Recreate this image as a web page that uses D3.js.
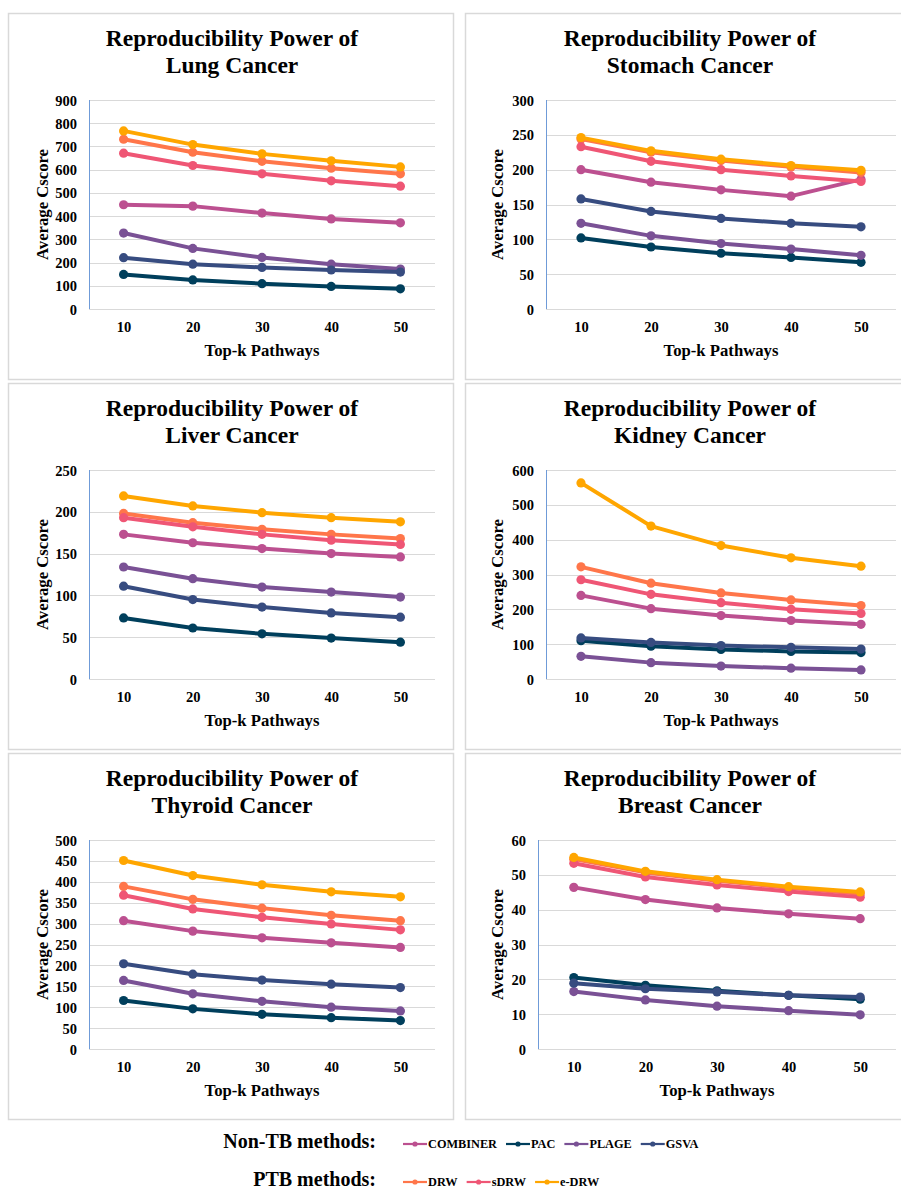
<!DOCTYPE html>
<html>
<head>
<meta charset="utf-8">
<script src="https://cdn.jsdelivr.net/npm/d3@7"></script>
<style>
  body { margin: 0; background: #fff; }
  text { font-family: "Liberation Serif", "Times New Roman", serif; font-weight: bold; fill: #000; }
</style>
</head>
<body>
<div id="main"></div>
<script>
var topK = [10, 20, 30, 40, 50];
var methods = ["COMBINER", "PAC", "PLAGE", "GSVA", "DRW", "sDRW", "e-DRW"];
var nonTB = ["COMBINER", "PAC", "PLAGE", "GSVA"];
var ptb = ["DRW", "sDRW", "e-DRW"];
var colors = ["#bc5090", "#003f5c", "#7a5195", "#374c80", "#ff764a", "#ef5675", "#ffa600"];

// values per cancer, same order as methods
var lung = [
  [449, 443, 413, 388, 371],
  [149, 125, 109, 97, 87],
  [327, 261, 222, 193, 172],
  [221, 193, 179, 168, 159],
  [731, 675, 636, 606, 582],
  [671, 618, 582, 552, 529],
  [767, 708, 668, 638, 612]
];
var stomach = [
  [200, 182, 171, 162, 186],
  [102, 89, 80, 74, 67],
  [123, 105, 94, 86, 77],
  [158, 140, 130, 123, 118],
  [244, 225, 213, 204, 196],
  [233, 212, 200, 191, 183],
  [246, 227, 215, 206, 199]
];
var liver = [
  [173, 163, 156, 150, 146],
  [73, 61, 54, 49, 44],
  [134, 120, 110, 104, 98],
  [111, 95, 86, 79, 74],
  [198, 187, 179, 173, 168],
  [193, 182, 173, 166, 161],
  [219, 207, 199, 193, 188]
];
var kidney = [
  [240, 202, 182, 168, 157],
  [110, 94, 85, 79, 76],
  [65, 47, 37, 31, 26],
  [118, 105, 96, 91, 86],
  [322, 275, 247, 227, 211],
  [285, 243, 219, 200, 188],
  [563, 439, 383, 348, 324]
];
var thyroid = [
  [307, 282, 266, 254, 243],
  [116, 96, 83, 75, 68],
  [164, 132, 114, 100, 91],
  [204, 179, 165, 155, 147],
  [389, 358, 337, 320, 307],
  [368, 335, 315, 299, 285],
  [451, 415, 393, 376, 364]
];
var breast = [
  [46.4, 42.9, 40.5, 38.8, 37.4],
  [20.5, 18.3, 16.7, 15.4, 14.3],
  [16.5, 14.1, 12.3, 11.0, 9.8],
  [18.9, 17.3, 16.4, 15.4, 14.9],
  [54.5, 50.7, 48.3, 46.3, 44.6],
  [53.3, 49.4, 47.1, 45.2, 43.6],
  [55.0, 51.0, 48.6, 46.6, 45.1]
];
var cancers = ["Lung", "Stomach", "Liver", "Kidney", "Thyroid", "Breast"];
var cancerValues = [lung, stomach, liver, kidney, thyroid, breast];
var yMax = [900, 300, 250, 600, 500, 60];
var yStep = [100, 50, 50, 100, 50, 10];

var svg = d3.select("#main").append("svg")
  .attr("width", 901)
  .attr("height", 1190);

cancers.forEach(function(name, i) {
  var col = i % 2, row = Math.floor(i / 2);
  var panelX = col == 0 ? 8 : 465;
  var panelTop = 13 + row * 370;
  var left = col == 0 ? 89 : (yMax[i] < 100 ? 538 : 546);
  var right = col == 0 ? 435 : 896;
  var top = 100 + row * 370, bottom = 309 + row * 370;
  var titleX = col == 0 ? 232 : 690;

  var g = svg.append("g");
  g.append("rect")
    .attr("x", panelX + 0.5).attr("y", panelTop + 0.5)
    .attr("width", col == 0 ? 445 : 460).attr("height", 366)
    .attr("fill", "#fff").attr("stroke", "#d9d9d9").attr("stroke-width", 1.5);//panel border

  var title = g.append("text")
    .attr("x", titleX).attr("y", panelTop + 33)
    .style("font-size", "23.5px").style("text-anchor", "middle");
  title.append("tspan").attr("x", titleX).text("Reproducibility Power of");
  title.append("tspan").attr("x", titleX).attr("dy", 27).text(name + " Cancer");

  var x = d3.scalePoint().domain(topK).range([left, right]).padding(0.5);
  var y = d3.scaleLinear().domain([0, yMax[i]]).range([bottom, top]);
  var ticks = d3.range(0, yMax[i] + yStep[i] / 2, yStep[i]);

  g.append("g").selectAll("line").data(ticks).enter().append("line")
    .attr("x1", left).attr("x2", right)
    .attr("y1", function(d) { return Math.round(y(d)) + 0.5; })
    .attr("y2", function(d) { return Math.round(y(d)) + 0.5; })
    .attr("stroke", "#d9d9d9").attr("stroke-width", 1);//gridlines
  g.append("line")
    .attr("x1", left + 0.5).attr("x2", left + 0.5)
    .attr("y1", top).attr("y2", bottom)
    .attr("stroke", "#6f9bd8").attr("stroke-width", 1);//y axis line

  var yAxis = d3.axisLeft(y).tickValues(ticks).tickSize(0).tickPadding(12);
  g.append("g").attr("transform", "translate(" + left + ",0)").call(yAxis)
    .call(function(s) { s.select(".domain").remove(); })
    .selectAll("text").style("font-size", "14.5px").attr("dy", "0.35em")
    .style("font-family", "'Liberation Serif', serif").style("font-weight", "bold").attr("fill", "#000");
  var xAxis = d3.axisBottom(x).tickSize(0).tickPadding(0);
  g.append("g").attr("transform", "translate(0," + bottom + ")").call(xAxis)
    .call(function(s) { s.select(".domain").remove(); })
    .selectAll("text").style("font-size", "14.5px").attr("y", 23).attr("dy", 0)
    .style("font-family", "'Liberation Serif', serif").style("font-weight", "bold").attr("fill", "#000");

  g.append("text")
    .attr("x", (left + right) / 2).attr("y", bottom + 47)
    .style("font-size", "16.7px").style("text-anchor", "middle")
    .text("Top-k Pathways");//x title
  g.append("text")
    .attr("transform", "translate(" + (col == 0 ? 48 : 503) + "," + ((top + bottom) / 2) + ") rotate(-90)")
    .style("font-size", "16.7px").style("text-anchor", "middle")
    .text("Average Cscore");//y title

  var line = d3.line()
    .x(function(d, j) { return x(topK[j]); })
    .y(function(d) { return y(d); });
  var series = g.selectAll(".series").data(cancerValues[i]).enter().append("g").attr("class", "series");
  series.append("path")
    .attr("d", line)
    .attr("fill", "none")
    .attr("stroke", function(d, k) { return colors[k]; })
    .attr("stroke-width", 4)
    .attr("stroke-linejoin", "round");
  series.each(function(vals, k) {
    d3.select(this).selectAll("circle").data(vals).enter().append("circle")
      .attr("cx", function(d, j) { return x(topK[j]); })
      .attr("cy", function(d) { return y(d); })
      .attr("r", 4.6)
      .attr("fill", colors[k]);
  });//draw lines and markers
});

// legend
function legendRow(label, names, startX, lineY) {
  svg.append("text")
    .attr("x", 376).attr("y", lineY + 4)
    .style("font-size", "20px").style("text-anchor", "end")
    .text(label);
  var xPos = startX;
  names.forEach(function(n) {
    var c = colors[methods.indexOf(n)];
    svg.append("line")
      .attr("x1", xPos).attr("x2", xPos + 24)
      .attr("y1", lineY).attr("y2", lineY)
      .attr("stroke", c).attr("stroke-width", 2.2);
    svg.append("circle")
      .attr("cx", xPos + 12).attr("cy", lineY).attr("r", 2.6).attr("fill", c);
    var t = svg.append("text")
      .attr("x", xPos + 25).attr("y", lineY + 4)
      .style("font-size", "12.3px")
      .text(n);
    xPos += 25 + t.node().getComputedTextLength() + 9;
  });
}
legendRow("Non-TB methods:", nonTB, 403, 1144);
legendRow("PTB methods:", ptb, 403, 1182);
</script>
</body>
</html>
